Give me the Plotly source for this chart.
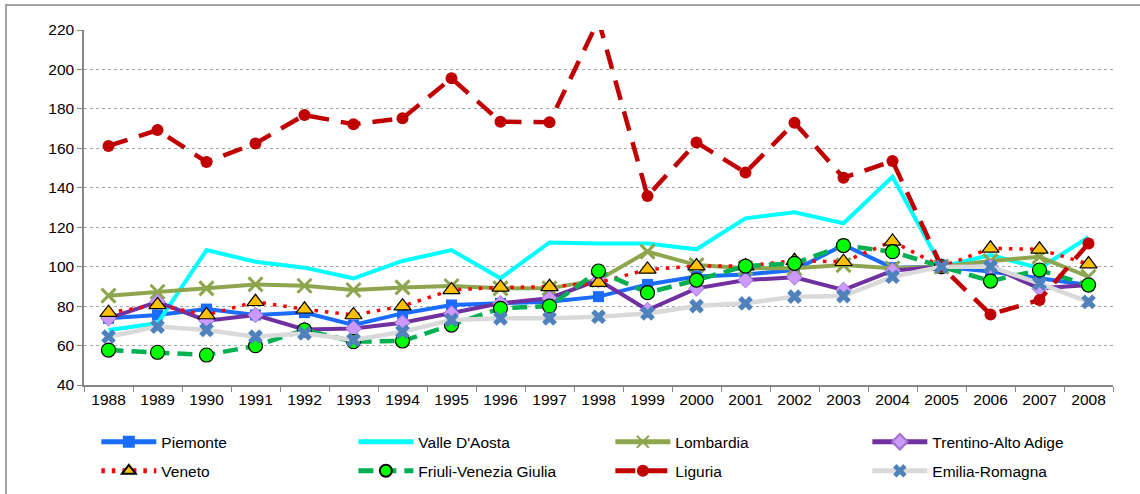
import plotly.graph_objects as go

years = [str(y) for y in range(1988, 2009)]

piemonte = [73.8, 75.5, 78.5, 75.5, 76.7, 70.4, 76.3, 80.6, 81.4, 82.2, 84.8, 91.0, 95.0, 96.0, 98.3, 111.0, 99.5, 100.0, 97.5, 94.1, 90.7]
valle = [67.9, 71.3, 108.4, 102.5, 99.5, 94.1, 102.9, 108.4, 94.1, 112.3, 111.8, 111.8, 108.8, 124.5, 127.6, 122.0, 145.6, 100.0, 105.9, 99.2, 114.9]
lombardia = [85.3, 87.3, 89.0, 91.0, 90.3, 88.2, 89.5, 90.2, 89.0, 89.0, 93.3, 107.6, 100.8, 99.2, 99.2, 100.8, 99.2, 100.0, 102.9, 105.0, 94.9]
trentino = [73.8, 82.2, 72.6, 75.5, 68.2, 68.7, 71.6, 76.3, 81.4, 84.0, 93.2, 78.0, 89.0, 93.2, 94.6, 88.2, 98.0, 100.0, 100.0, 89.0, 90.7]
veneto = [76.7, 80.6, 75.5, 82.2, 78.4, 75.5, 80.0, 88.2, 89.5, 89.8, 91.9, 98.6, 100.3, 100.3, 103.0, 102.5, 112.8, 100.0, 109.3, 108.8, 101.3]
friuli = [57.7, 56.6, 55.2, 59.9, 67.9, 62.0, 62.3, 70.4, 78.9, 80.0, 97.8, 86.8, 93.2, 100.3, 101.7, 110.7, 107.6, 100.0, 92.7, 98.3, 90.7]
liguria = [161.2, 169.3, 153.1, 162.5, 176.9, 172.2, 175.2, 195.5, 173.5, 173.2, 225.0, 135.8, 163.0, 147.7, 173.0, 145.1, 153.6, 100.0, 75.8, 83.1, 111.8]
emilia = [64.5, 69.6, 67.9, 64.5, 66.2, 62.8, 67.0, 73.0, 73.8, 73.8, 74.6, 76.3, 80.0, 81.4, 84.8, 85.1, 94.9, 100.0, 100.0, 91.5, 82.2]

y_ticks = [40, 60, 80, 100, 120, 140, 160, 180, 200, 220]

series = [
    dict(name="Piemonte", y=piemonte, legend="legend", mode="lines+markers",
         line=dict(color="#1A6CFF", width=4),
         marker=dict(symbol="square", size=11, color="#1A6CFF")),
    dict(name="Valle D'Aosta", y=valle, legend="legend", mode="lines",
         line=dict(color="#00FFFF", width=4),
         marker=dict(symbol="square", size=4, color="#00FFFF")),
    dict(name="Lombardia", y=lombardia, legend="legend", mode="lines+markers",
         line=dict(color="#8DA64E", width=4),
         marker=dict(symbol="x-thin", size=14, color="#8DA64E", line=dict(color="#8DA64E", width=3))),
    dict(name="Trentino-Alto Adige", y=trentino, legend="legend", mode="lines+markers",
         line=dict(color="#7030A0", width=4),
         marker=dict(symbol="diamond", size=12, color="#CC99FF", line=dict(color="#A070D0", width=1))),
    dict(name="Veneto", y=veneto, legend="legend2", mode="lines+markers",
         line=dict(color="#FF0000", width=3.5, dash="3.5px,7px"),
         marker=dict(symbol="triangle-up", size=15, color="#FFC000", line=dict(color="#000000", width=1.2))),
    dict(name="Friuli-Venezia Giulia", y=friuli, legend="legend2", mode="lines+markers",
         line=dict(color="#00B050", width=4.5, dash="15px,8px"),
         marker=dict(symbol="circle", size=14, color="#00FF00", line=dict(color="#000000", width=1.2))),
    dict(name="Liguria", y=liguria, legend="legend2", mode="lines+markers",
         line=dict(color="#C00000", width=4.5, dash="20px,12px"),
         marker=dict(symbol="circle", size=12, color="#C00000")),
    dict(name="Emilia-Romagna", y=emilia, legend="legend2", mode="lines+markers",
         line=dict(color="#D9D9D9", width=4.5),
         marker=dict(symbol="x", size=13, color="#4F81BD")),
]

fig = go.Figure()
for s in series:
    fig.add_trace(go.Scatter(x=years, y=s["y"], name=s["name"], mode=s["mode"],
                             line=s["line"], marker=s["marker"], legend=s["legend"]))

axis_font = dict(family="Liberation Sans, Arial, sans-serif", size=15.5, color="#000000")
legend_font = dict(family="Liberation Sans, Arial, sans-serif", size=15.5, color="#000000")

fig.update_layout(
    width=1140, height=494,
    margin=dict(l=84, r=27, t=30, b=109, autoexpand=False),
    paper_bgcolor="white", plot_bgcolor="white",
    font=axis_font,
    xaxis=dict(type="category", range=[-0.5, 20.5], showline=True, linecolor="#868686", linewidth=1.5,
               ticks="outside", ticklen=5, tickcolor="#868686", tickson="boundaries",
               showgrid=False, tickfont=axis_font, fixedrange=True),
    yaxis=dict(range=[40, 220], tickvals=y_ticks, showline=True, linecolor="#868686", linewidth=1.5,
               ticks="outside", ticklen=5, tickcolor="#868686",
               showgrid=True, gridcolor="#A6A6A6", griddash="dot", gridwidth=1,
               zeroline=False, tickfont=axis_font),
    legend=dict(orientation="h", x=0.012, y=-0.113, xanchor="left", yanchor="top",
                entrywidth=187, entrywidthmode="pixels", itemwidth=55, itemsizing="constant",
                font=legend_font, bgcolor="rgba(0,0,0,0)"),
    legend2=dict(orientation="h", x=0.012, y=-0.195, xanchor="left", yanchor="top",
                 entrywidth=187, entrywidthmode="pixels", itemwidth=55, itemsizing="constant",
                 font=legend_font, bgcolor="rgba(0,0,0,0)"),
    shapes=[dict(type="rect", xref="paper", yref="paper",
                 x0=(6 - 84) / 1029, x1=(1160 - 84) / 1029,
                 y0=(385 - 510) / 355, y1=1 + (30 - 5) / 355,
                 line=dict(color="#868686", width=1.5), fillcolor="rgba(0,0,0,0)", layer="below")],
)

fig.write_html("out.html", config={"displayModeBar": False},
               post_script="document.body.style.margin='0';document.body.style.padding='0';")
